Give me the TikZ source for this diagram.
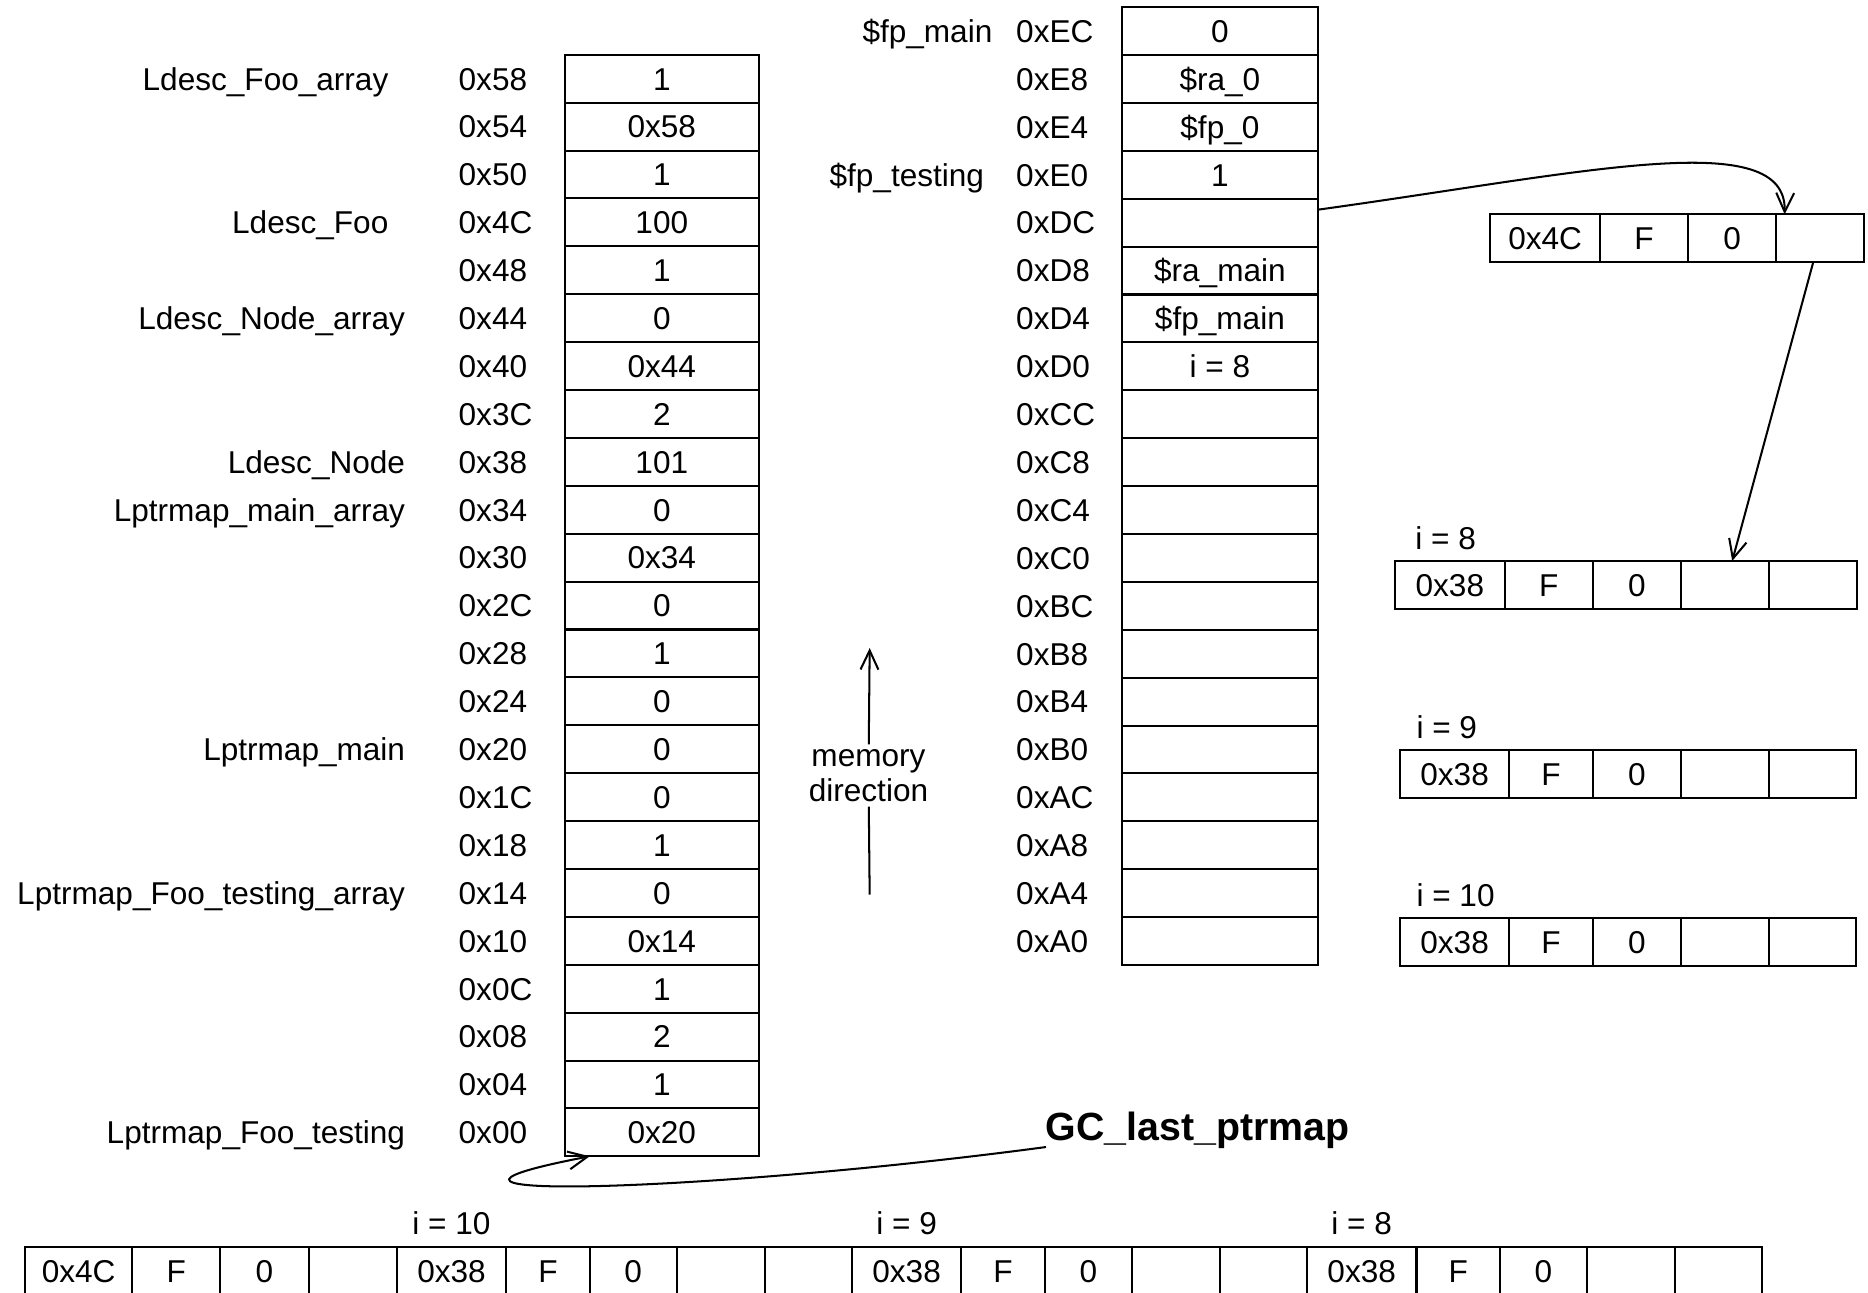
\documentclass[tikz,border=0pt]{standalone}
\usepackage{fontspec}
\setmainfont{Liberation Sans}
\usetikzlibrary{calc, positioning, arrows.meta}
\newcommand{\memfont}{\fontsize{26.5}{30}\selectfont}

\begin{document}
\begin{tikzpicture}[x=1pt, y=-1pt, >={Straight Barb[length=16pt, width=15pt]}, line width=1.7pt, font=\memfont,
  txt/.style={inner sep=0pt, outer sep=0pt, text height=23.8pt, text depth=4.8pt},
  cell/.style={txt, draw, minimum height=40.2pt},
  sbox/.style={cell, minimum width=74pt},
  addr/.style={txt, anchor=west},
  symb/.style={txt, anchor=east}]

\useasboundingbox (0,0) rectangle (1568,1085);

% data segment
\begin{scope}[cell/.append style={minimum width=163pt}, node distance=0pt]
\node[cell] (lc-58) at (555.5,66.1) {1};
\node[cell, below = of lc-58] (lc-54) {0x58};
\node[cell, below = of lc-54] (lc-50) {1};
\node[cell, below = of lc-50] (lc-4C) {100};
\node[cell, below = of lc-4C] (lc-48) {1};
\node[cell, below = of lc-48] (lc-44) {0};
\node[cell, below = of lc-44] (lc-40) {0x44};
\node[cell, below = of lc-40] (lc-3C) {2};
\node[cell, below = of lc-3C] (lc-38) {101};
\node[cell, below = of lc-38] (lc-34) {0};
\node[cell, below = of lc-34] (lc-30) {0x34};
\node[cell, below = of lc-30] (lc-2C) {0};
\node[cell, below = of lc-2C] (lc-28) {1};
\node[cell, below = of lc-28] (lc-24) {0};
\node[cell, below = of lc-24] (lc-20) {0};
\node[cell, below = of lc-20] (lc-1C) {0};
\node[cell, below = of lc-1C] (lc-18) {1};
\node[cell, below = of lc-18] (lc-14) {0};
\node[cell, below = of lc-14] (lc-10) {0x14};
\node[cell, below = of lc-10] (lc-0C) {1};
\node[cell, below = of lc-0C] (lc-08) {2};
\node[cell, below = of lc-08] (lc-04) {1};
\node[cell, below = of lc-04] (lc-00) {0x20};
\end{scope}

\node[addr] (la-58) at ([xshift=-89pt]lc-58.west) {0x58};
\node[addr] (la-54) at ([xshift=-89pt]lc-54.west) {0x54};
\node[addr] (la-50) at ([xshift=-89pt]lc-50.west) {0x50};
\node[addr] (la-4C) at ([xshift=-89pt]lc-4C.west) {0x4C};
\node[addr] (la-48) at ([xshift=-89pt]lc-48.west) {0x48};
\node[addr] (la-44) at ([xshift=-89pt]lc-44.west) {0x44};
\node[addr] (la-40) at ([xshift=-89pt]lc-40.west) {0x40};
\node[addr] (la-3C) at ([xshift=-89pt]lc-3C.west) {0x3C};
\node[addr] (la-38) at ([xshift=-89pt]lc-38.west) {0x38};
\node[addr] (la-34) at ([xshift=-89pt]lc-34.west) {0x34};
\node[addr] (la-30) at ([xshift=-89pt]lc-30.west) {0x30};
\node[addr] (la-2C) at ([xshift=-89pt]lc-2C.west) {0x2C};
\node[addr] (la-28) at ([xshift=-89pt]lc-28.west) {0x28};
\node[addr] (la-24) at ([xshift=-89pt]lc-24.west) {0x24};
\node[addr] (la-20) at ([xshift=-89pt]lc-20.west) {0x20};
\node[addr] (la-1C) at ([xshift=-89pt]lc-1C.west) {0x1C};
\node[addr] (la-18) at ([xshift=-89pt]lc-18.west) {0x18};
\node[addr] (la-14) at ([xshift=-89pt]lc-14.west) {0x14};
\node[addr] (la-10) at ([xshift=-89pt]lc-10.west) {0x10};
\node[addr] (la-0C) at ([xshift=-89pt]lc-0C.west) {0x0C};
\node[addr] (la-08) at ([xshift=-89pt]lc-08.west) {0x08};
\node[addr] (la-04) at ([xshift=-89pt]lc-04.west) {0x04};
\node[addr] (la-00) at ([xshift=-89pt]lc-00.west) {0x00};

\node[symb] (ls-foo-arr) at ([xshift=-148pt]lc-58.west) {Ldesc\_Foo\_array};
\node[symb] (ls-foo) at ([xshift=-148pt]lc-4C.west) {Ldesc\_Foo};
\node[symb] (ls-node-arr) at ([xshift=-134pt]lc-44.west) {Ldesc\_Node\_array};
\node[symb] (ls-node) at ([xshift=-134pt]lc-38.west) {Ldesc\_Node};
\node[symb] (ls-main-arr) at ([xshift=-134pt]lc-34.west) {Lptrmap\_main\_array};
\node[symb] (ls-main) at ([xshift=-134pt]lc-20.west) {Lptrmap\_main};
\node[symb] (ls-test-arr) at ([xshift=-134pt]lc-14.west) {Lptrmap\_Foo\_testing\_array};
\node[symb] (ls-test) at ([xshift=-134pt]lc-00.west) {Lptrmap\_Foo\_testing};

% stack
\begin{scope}[cell/.append style={minimum width=164pt}, node distance=0pt]
\node[cell] (mc-EC) at (1024,26.1) {0};
\node[cell, below = of mc-EC] (mc-E8) {\$ra\_0};
\node[cell, below = of mc-E8] (mc-E4) {\$fp\_0};
\node[cell, below = of mc-E4] (mc-E0) {1};
\node[cell, below = of mc-E0] (mc-DC) {};
\node[cell, below = of mc-DC] (mc-D8) {\$ra\_main};
\node[cell, below = of mc-D8] (mc-D4) {\$fp\_main};
\node[cell, below = of mc-D4] (mc-D0) {i = 8};
\node[cell, below = of mc-D0] (mc-CC) {};
\node[cell, below = of mc-CC] (mc-C8) {};
\node[cell, below = of mc-C8] (mc-C4) {};
\node[cell, below = of mc-C4] (mc-C0) {};
\node[cell, below = of mc-C0] (mc-BC) {};
\node[cell, below = of mc-BC] (mc-B8) {};
\node[cell, below = of mc-B8] (mc-B4) {};
\node[cell, below = of mc-B4] (mc-B0) {};
\node[cell, below = of mc-B0] (mc-AC) {};
\node[cell, below = of mc-AC] (mc-A8) {};
\node[cell, below = of mc-A8] (mc-A4) {};
\node[cell, below = of mc-A4] (mc-A0) {};
\end{scope}

\node[addr] (ma-EC) at ([xshift=-89pt]mc-EC.west) {0xEC};
\node[addr] (ma-E8) at ([xshift=-89pt]mc-E8.west) {0xE8};
\node[addr] (ma-E4) at ([xshift=-89pt]mc-E4.west) {0xE4};
\node[addr] (ma-E0) at ([xshift=-89pt]mc-E0.west) {0xE0};
\node[addr] (ma-DC) at ([xshift=-89pt]mc-DC.west) {0xDC};
\node[addr] (ma-D8) at ([xshift=-89pt]mc-D8.west) {0xD8};
\node[addr] (ma-D4) at ([xshift=-89pt]mc-D4.west) {0xD4};
\node[addr] (ma-D0) at ([xshift=-89pt]mc-D0.west) {0xD0};
\node[addr] (ma-CC) at ([xshift=-89pt]mc-CC.west) {0xCC};
\node[addr] (ma-C8) at ([xshift=-89pt]mc-C8.west) {0xC8};
\node[addr] (ma-C4) at ([xshift=-89pt]mc-C4.west) {0xC4};
\node[addr] (ma-C0) at ([xshift=-89pt]mc-C0.west) {0xC0};
\node[addr] (ma-BC) at ([xshift=-89pt]mc-BC.west) {0xBC};
\node[addr] (ma-B8) at ([xshift=-89pt]mc-B8.west) {0xB8};
\node[addr] (ma-B4) at ([xshift=-89pt]mc-B4.west) {0xB4};
\node[addr] (ma-B0) at ([xshift=-89pt]mc-B0.west) {0xB0};
\node[addr] (ma-AC) at ([xshift=-89pt]mc-AC.west) {0xAC};
\node[addr] (ma-A8) at ([xshift=-89pt]mc-A8.west) {0xA8};
\node[addr] (ma-A4) at ([xshift=-89pt]mc-A4.west) {0xA4};
\node[addr] (ma-A0) at ([xshift=-89pt]mc-A0.west) {0xA0};

\node[symb] (ms-fp-main) at ([xshift=-109pt]mc-EC.west) {\$fp\_main};
\node[symb] (ms-fp-test) at ([xshift=-116pt]mc-E0.west) {\$fp\_testing};

% memory direction
\node[align=center, inner sep=3pt] (mem-dir) at (729,651) {memory\\direction};
\coordinate (dir-low) at (730,751);
\coordinate (dir-high) at (730,544);
\draw (dir-low) -- (mem-dir);
\draw[->] (mem-dir) -- (dir-high);

% pointer maps on the right
\begin{scope}[node distance=0pt]
\node[sbox, minimum width=92pt] (ptr-1) at (1297,200) {0x4C};
\node[sbox, right = of ptr-1] (ptr-2) {F};
\node[sbox, right = of ptr-2] (ptr-3) {0};
\node[sbox, right = of ptr-3] (ptr-4) {};

\node[sbox, minimum width=92pt] (e8-1) at (1217,491) {0x38};
\node[sbox, right = of e8-1] (e8-2) {F};
\node[sbox, right = of e8-2] (e8-3) {0};
\node[sbox, right = of e8-3] (e8-4) {};
\node[sbox, right = of e8-4] (e8-5) {};

\node[sbox, minimum width=92pt] (e9-1) at (1221,650) {0x38};
\node[sbox, minimum width=70pt, right = of e9-1] (e9-2) {F};
\node[sbox, right = of e9-2] (e9-3) {0};
\node[sbox, right = of e9-3] (e9-4) {};
\node[sbox, minimum width=73pt, right = of e9-4] (e9-5) {};

\node[sbox, minimum width=92pt] (e10-1) at (1221,791) {0x38};
\node[sbox, minimum width=70pt, right = of e10-1] (e10-2) {F};
\node[sbox, right = of e10-2] (e10-3) {0};
\node[sbox, right = of e10-3] (e10-4) {};
\node[sbox, minimum width=73pt, right = of e10-4] (e10-5) {};
\end{scope}

\node[txt, above = 5pt of e8-1.north west, anchor=south west, xshift=17pt] (lbl-e8) {i = 8};
\node[txt, above = 5pt of e9-1.north west, anchor=south west, xshift=14pt] (lbl-e9) {i = 9};
\node[txt, above = 5pt of e10-1.north west, anchor=south west, xshift=14pt] (lbl-e10) {i = 10};

% bottom row
\begin{scope}[node distance=0pt]
\node[sbox, minimum width=90pt] (bt1-1) at (66,1067) {0x4C};
\node[sbox, right = of bt1-1] (bt1-2) {F};
\node[sbox, right = of bt1-2] (bt1-3) {0};
\node[sbox, right = of bt1-3] (bt1-4) {};

\node[sbox, minimum width=92pt, right = of bt1-4] (bt2-1) {0x38};
\node[sbox, minimum width=70pt, right = of bt2-1] (bt2-2) {F};
\node[sbox, minimum width=73pt, right = of bt2-2] (bt2-3) {0};
\node[sbox, right = of bt2-3] (bt2-4) {};
\node[sbox, minimum width=73pt, right = of bt2-4] (bt2-5) {};

\node[sbox, minimum width=92pt, right = of bt2-5] (bt3-1) {0x38};
\node[sbox, minimum width=70pt, right = of bt3-1] (bt3-2) {F};
\node[sbox, minimum width=73pt, right = of bt3-2] (bt3-3) {0};
\node[sbox, right = of bt3-3] (bt3-4) {};
\node[sbox, minimum width=73pt, right = of bt3-4] (bt3-5) {};

\node[sbox, minimum width=92pt, right = of bt3-5] (bt4-1) {0x38};
\node[sbox, minimum width=70pt, right = of bt4-1] (bt4-2) {F};
\node[sbox, minimum width=73pt, right = of bt4-2] (bt4-3) {0};
\node[sbox, right = of bt4-3] (bt4-4) {};
\node[sbox, minimum width=73pt, right = of bt4-4] (bt4-5) {};
\end{scope}

\node[txt, above = 6pt of bt2-1] (lbl-bt2) {i = 10};
\node[txt, above = 6pt of bt3-1] (lbl-bt3) {i = 9};
\node[txt, above = 6pt of bt4-1] (lbl-bt4) {i = 8};

\node[txt, anchor=west, text height=29.7pt, text depth=5.9pt, font=\fontsize{33}{38}\selectfont\bfseries] (gc-ptr) at (878,945) {GC\_last\_ptrmap};

% pointers
\draw[->] ($(mc-DC.north east)!0.23!(mc-DC.south east)$) .. controls (1330,145) and (1500,105) .. ([xshift=7pt]ptr-4.north west);
\draw[->] ([xshift=-6pt]ptr-4.south) -- ([xshift=6pt]e8-4.north);
\draw[->] (gc-ptr.south west) .. controls (600,1000) and (290,1010) .. ([xshift=21pt]lc-00.south west);

\end{tikzpicture}
\end{document}
